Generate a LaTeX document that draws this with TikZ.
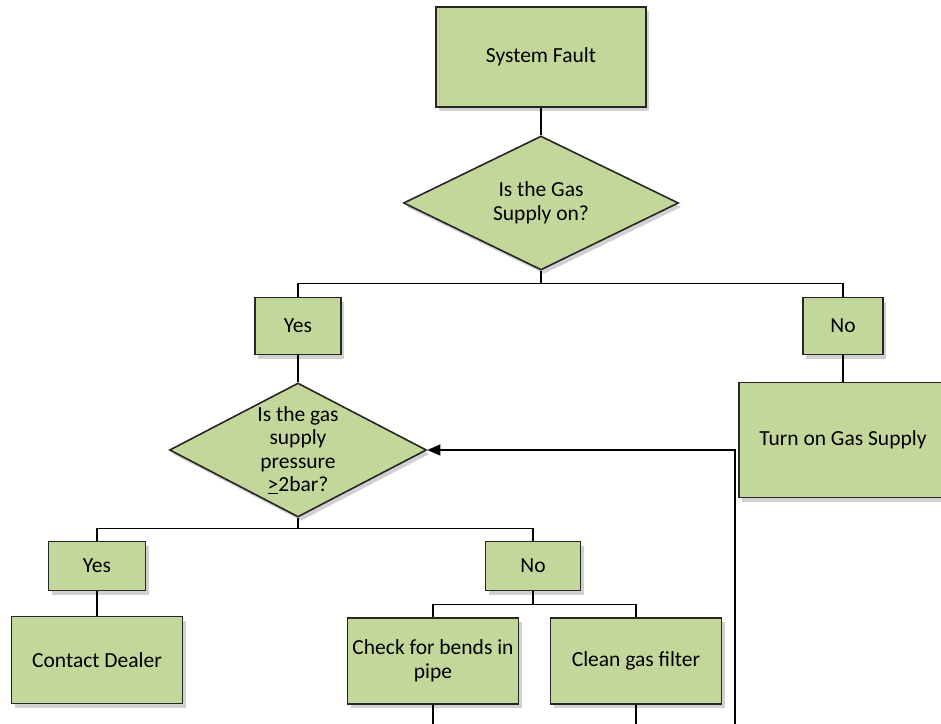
\documentclass[tikz,border=0pt]{standalone}
\usepackage{fontspec}
\setmainfont{Carlito}
\usepackage{tikz}
\usetikzlibrary{positioning,arrows.meta,shapes.geometric,shadows}

\definecolor{boxgreen}{RGB}{196,215,155}

\tikzset{
    block/.style={rectangle,draw=black!85,line width=1.6pt,fill=boxgreen,align=center,
        drop shadow={shadow xshift=3pt,shadow yshift=-4pt,opacity=.3,fill=black!60}},
    decision/.style={diamond,draw=black!85,line width=1.6pt,fill=boxgreen,inner sep=0pt,
        drop shadow={shadow xshift=3pt,shadow yshift=-4pt,opacity=.3,fill=black!60}},
    link/.style={draw=black,line width=1.3pt}
}

\begin{document}
\begin{tikzpicture}[x=1pt,y=1pt,on grid,font=\fontsize{21.5pt}{23.5pt}\selectfont]
    \useasboundingbox (0,0) rectangle (941,-723);
    \node[block,minimum width=210pt,minimum height=100pt] (fault) at (541,-57) {System Fault};
    \node[decision,minimum width=275pt,minimum height=134pt,
        label={[align=center]center:Is the Gas\\Supply on?}] (gas) [below=146pt of fault] {};
    \node[block,minimum width=86pt,minimum height=57pt] (yes1) [below left=123pt and 243pt of gas] {Yes};
    \node[block,minimum width=80pt,minimum height=57pt] (no1) [right=545pt of yes1] {No};
    \node[block,minimum width=208pt,minimum height=115pt] (turnon) [below=114pt of no1] {Turn on Gas Supply};
    \node[decision,minimum width=257pt,minimum height=134pt,
        label={[align=center]center:Is the gas\\supply\\pressure\\\underline{>}2bar?}] (pressure) [below=124pt of yes1] {};
    \node[block,minimum width=97pt,minimum height=49pt] (yes2) [below left=116pt and 201pt of pressure] {Yes};
    \node[block,minimum width=95pt,minimum height=49pt] (no2) [right=436pt of yes2] {No};
    \node[block,minimum width=171pt,minimum height=87pt] (dealer) [below=94pt of yes2] {Contact Dealer};
    \node[block,minimum width=171pt,minimum height=86pt] (bends) [below left=95pt and 100pt of no2] {Check for bends in\\pipe};
    \node[block,minimum width=171pt,minimum height=86pt] (filter) [right=203pt of bends] {Clean gas filter};

    \coordinate[below=13pt of gas.south] (bus1);
    \coordinate[below=11pt of pressure.south] (bus2);
    \coordinate[below=13pt of no2.south] (bus3);
    \coordinate[below=24pt of bends.south] (bendsend);
    \coordinate[below=24pt of filter.south] (filterend);
    \coordinate (loop) at (735,-726);

    \path[link]
        (fault) -- (gas)
        (gas) -- (bus1)
        (yes1) |- (bus1) -| (no1)
        (no1) -- (turnon)
        (yes1) -- (pressure)
        (pressure) -- (bus2)
        (yes2) |- (bus2) -| (no2)
        (yes2) -- (dealer)
        (no2) -- (bus3)
        (bends) |- (bus3) -| (filter)
        (bends) -- (bendsend)
        (filter) -- (filterend);
    \draw[link,-{Triangle[length=13pt,width=11pt]}] (loop) |- (pressure);
\end{tikzpicture}
\end{document}
